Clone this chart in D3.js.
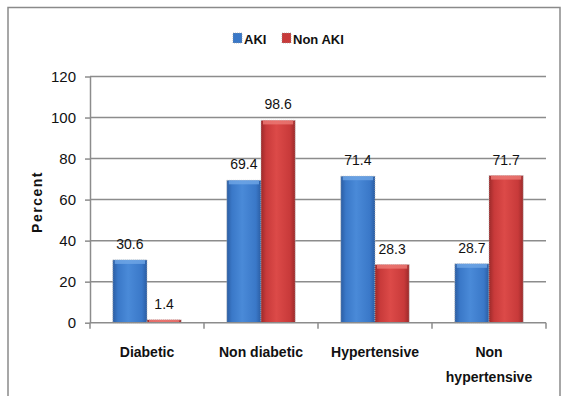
<!DOCTYPE html>
<html>
<head>
<meta charset="utf-8">
<script src="https://cdn.jsdelivr.net/npm/d3@7/dist/d3.min.js"></script>
<style>
  html, body { margin: 0; padding: 0; background: #fff; }
  svg { display: block; }
  text { font-family: "Liberation Sans", Arial, sans-serif; }
</style>
</head>
<body>
<svg id="chart" width="561" height="396"></svg>
<script>
// Chart data
const categories = [["Diabetic"], ["Non diabetic"], ["Hypertensive"], ["Non", "hypertensive"]];
const seriesNames = ["AKI", "Non AKI"];
const akiValues = [30.6, 69.4, 71.4, 28.7];
const nonAkiValues = [1.4, 98.6, 28.3, 71.7];
const yTicks = [0, 20, 40, 60, 80, 100, 120];

const svg = d3.select("#chart");
const W = 561, H = 396;
const margin = { left: 90, right: 15, top: 76.5, bottom: 73.3 };
const plotW = W - margin.left - margin.right;
const plotH = H - margin.top - margin.bottom;

// Outer frame
svg.append("rect")
  .attr("x", 8).attr("y", 7.5).attr("width", 552).attr("height", 420)
  .attr("fill", "none").attr("stroke", "#8a8a8a").attr("stroke-width", 1.5);

const defs = svg.append("defs");
function barGradient(id, edge, mid, light) {
  const g = defs.append("linearGradient").attr("id", id)
    .attr("x1", "0%").attr("x2", "100%").attr("y1", "0%").attr("y2", "0%");
  g.append("stop").attr("offset", "0%").attr("stop-color", edge);
  g.append("stop").attr("offset", "15%").attr("stop-color", mid);
  g.append("stop").attr("offset", "45%").attr("stop-color", light);
  g.append("stop").attr("offset", "85%").attr("stop-color", mid);
  g.append("stop").attr("offset", "100%").attr("stop-color", edge);
}
barGradient("gBlue", "#2b5da3", "#3a78c8", "#4a8ad8");
barGradient("gRed", "#9c2a2a", "#c83a3a", "#dc4a48");
const colors = { "AKI": "url(#gBlue)", "Non AKI": "url(#gRed)" };
const bevel = { "AKI": "#6fa6e6", "Non AKI": "#ec7a76" };
const legendFill = { "AKI": "#3a78c8", "Non AKI": "#c83a3a" };

const g = svg.append("g").attr("transform", `translate(${margin.left},${margin.top})`);

const x0 = d3.scaleBand().domain(d3.range(categories.length)).range([0, plotW]).paddingInner(0).paddingOuter(0);
const x1 = d3.scaleBand().domain(seriesNames).range([x0.bandwidth() * 0.2, x0.bandwidth() * 0.8]);
const y = d3.scaleLinear().domain([0, 120]).range([plotH, 0]);

// Gridlines
g.append("g").selectAll("line").data(yTicks.filter(t => t > 0)).join("line")
  .attr("x1", 0).attr("x2", plotW)
  .attr("y1", d => y(d)).attr("y2", d => y(d))
  .attr("stroke", "#8c8c8c").attr("stroke-width", 1.5);

// Y axis
const yAxis = g.append("g").call(d3.axisLeft(y).tickValues(yTicks).tickSize(5).tickSizeOuter(0).tickPadding(9));
yAxis.select(".domain").attr("stroke", "#8c8c8c").attr("stroke-width", 1.5);
yAxis.selectAll(".tick line").attr("stroke", "#8c8c8c").attr("stroke-width", 1.5);
yAxis.selectAll(".tick text").attr("font-size", 15).attr("fill", "#111")
  .style("font-family", "'Liberation Sans', Arial, sans-serif");

// Data rows
const rows = categories.map((c, i) => ({ i, values: [
  { key: "AKI", value: akiValues[i] },
  { key: "Non AKI", value: nonAkiValues[i] }
]}));

const groups = g.append("g").selectAll("g").data(rows).join("g")
  .attr("transform", d => `translate(${x0(d.i)},0)`);

groups.selectAll("rect.bar").data(d => d.values).join("rect")
  .attr("class", "bar")
  .attr("x", d => x1(d.key)).attr("width", x1.bandwidth())
  .attr("y", d => y(d.value)).attr("height", d => y(0) - y(d.value))
  .attr("fill", d => colors[d.key])
  .attr("stroke", "#b5b5b5").attr("stroke-width", 0.8).attr("stroke-dasharray", "1,1");

// Top bevel highlight on each bar
groups.selectAll("rect.bevel").data(d => d.values).join("rect")
  .attr("class", "bevel")
  .attr("x", d => x1(d.key) + 2).attr("width", x1.bandwidth() - 4)
  .attr("y", d => y(d.value)).attr("height", d => Math.min(4, y(0) - y(d.value)))
  .attr("fill", d => bevel[d.key]).attr("opacity", 0.8);

// Value labels
groups.selectAll("text.val").data(d => d.values).join("text")
  .attr("class", "val")
  .attr("x", d => x1(d.key) + x1.bandwidth() / 2)
  .attr("y", d => y(d.value) - 11)
  .attr("text-anchor", "middle").attr("font-size", 14).attr("fill", "#111")
  .text(d => d.value);

// X axis
g.append("line").attr("x1", 0).attr("x2", plotW).attr("y1", y(0)).attr("y2", y(0))
  .attr("stroke", "#8c8c8c").attr("stroke-width", 1.5);
g.append("g").selectAll("line").data(d3.range(categories.length + 1)).join("line")
  .attr("x1", i => i * x0.bandwidth()).attr("x2", i => i * x0.bandwidth())
  .attr("y1", y(0)).attr("y2", y(0) + 6)
  .attr("stroke", "#8c8c8c").attr("stroke-width", 1.5);

// Category labels
const catText = g.append("g").selectAll("text").data(categories).join("text")
  .attr("x", (d, i) => x0(i) + x0.bandwidth() / 2)
  .attr("y", plotH + 34)
  .attr("text-anchor", "middle").attr("font-size", 14).attr("font-weight", "bold").attr("fill", "#111");
catText.each(function(lines) {
  d3.select(this).selectAll("tspan").data(lines).join("tspan")
    .attr("x", d3.select(this).attr("x"))
    .attr("dy", (d, j) => j === 0 ? 0 : 25)
    .text(d => d);
});

// Y axis title
svg.append("text")
  .attr("transform", "translate(42,202) rotate(-90)")
  .attr("text-anchor", "middle").attr("font-size", 14).attr("font-weight", "bold")
  .attr("letter-spacing", 1.5).attr("fill", "#111")
  .text("Percent");

// Legend
const legendItems = [{ key: "AKI", x: 233 }, { key: "Non AKI", x: 282 }];
const lg = svg.append("g");
legendItems.forEach(it => {
  lg.append("rect").attr("x", it.x).attr("y", 33).attr("width", 9).attr("height", 10)
    .attr("fill", legendFill[it.key]).attr("stroke", "#999").attr("stroke-width", 0.6).attr("stroke-dasharray", "1,1");
  lg.append("text").attr("x", it.x + 11).attr("y", 43.5)
    .attr("font-size", 13).attr("font-weight", "bold").attr("fill", "#111")
    .text(it.key);
});
</script>
</body>
</html>
